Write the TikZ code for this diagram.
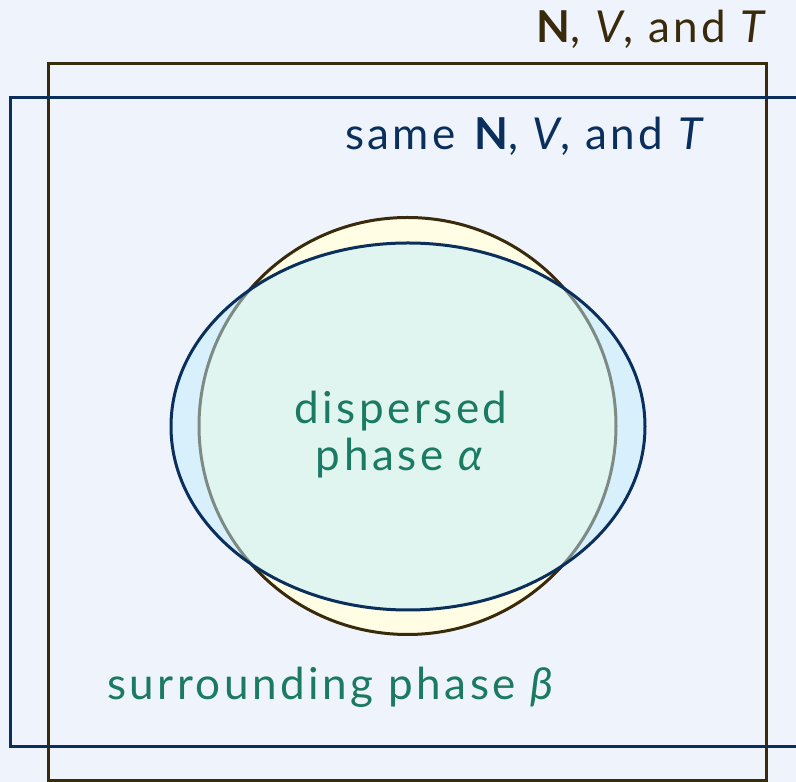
\documentclass[tikz,border=0pt]{standalone}
\usepackage{fontspec}
\setmainfont{Lato}[LetterSpace=8]
\usetikzlibrary{positioning}

\definecolor{paper}{HTML}{EFF4FC}
\definecolor{sysbrown}{HTML}{3A2A0C}
\definecolor{sysnavy}{HTML}{0A2F5C}
\definecolor{phaseteal}{HTML}{1B7A62}
\definecolor{dropyellow}{HTML}{FFFDE4}
\definecolor{dropblue}{HTML}{C2ECFC}

\begin{document}
\begin{tikzpicture}[x=1pt, y=1pt, font=\fontsize{44}{47}\selectfont]
    % Define styles
    \tikzstyle{frame} = [line width=3pt]
    \tikzstyle{label} = [inner sep=0pt, outer sep=0pt]

    % Page and background
    \useasboundingbox (0,0) rectangle (796,782);
    \fill[paper] (0,0) rectangle (796,782);
    \clip (0,0) rectangle (796,782);

    % Real system (brown) and reference system (navy)
    \draw[frame, sysbrown] (48,1) rectangle (766,718);
    \draw[frame, sysnavy] (10,35) rectangle (810,684);

    % Drop of phase alpha and its reference counterpart
    \draw[frame, sysbrown, fill=dropyellow] (407.5,356) circle (208.5);
    \draw[frame, sysnavy, fill=dropblue, fill opacity=0.5] (408,355.5) ellipse (237 and 183.5);

    % Labels
    \node (realsys) [label, sysbrown, anchor=base east] at (770,739)
        {\textbf{N}, \textit{V}, and \textit{T}};
    \node (refsys) [label, sysnavy, anchor=base west] at (345,632)
        {same \textbf{N}, \textit{V}, and \textit{T}};
    \node (alpha) [label, phaseteal, align=center] at (401,347)
        {dispersed\\ phase \textit{α}};
    \node (beta) [label, phaseteal, anchor=base west] at (107,82)
        {surrounding phase \textit{β}};
\end{tikzpicture}
\end{document}
